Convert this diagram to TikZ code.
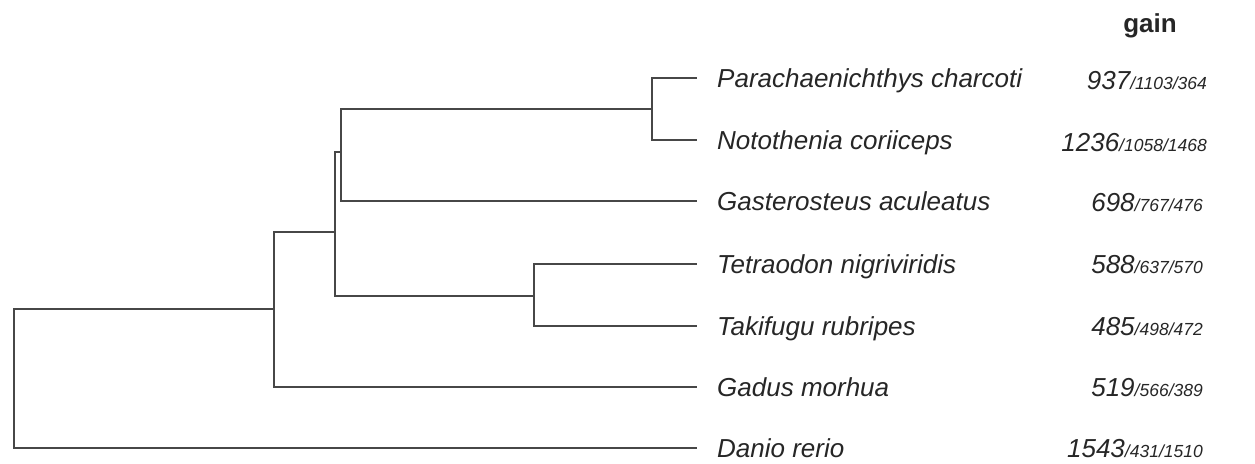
\documentclass[tikz,border=0pt]{standalone}
\usepackage{fontspec}
\setmainfont{Liberation Sans}
\usetikzlibrary{positioning}

\newcommand{\rest}[1]{{\fontsize{17.5}{20}\selectfont #1}}

\begin{document}
\begin{tikzpicture}[x=1pt,y=-1pt,
  branch/.style={draw=black!72,line width=2pt,to path={|- (\tikztotarget)}},
  species/.style={anchor=west,inner sep=0pt,text height=18.6pt,text depth=0pt,text=black!85,font=\fontsize{26}{30}\selectfont\itshape},
  count/.style={anchor=east,inner sep=0pt,text height=18.6pt,text depth=0pt,text=black!85,font=\fontsize{26}{30}\selectfont\itshape}]
  \useasboundingbox (0,0) rectangle (1255,463);

  % leaf tips
  \coordinate (t1) at (697,78);
  \coordinate (t2) at (697,140);
  \coordinate (t3) at (697,201);
  \coordinate (t4) at (697,264);
  \coordinate (t5) at (697,326);
  \coordinate (t6) at (697,387);
  \coordinate (t7) at (697,448);

  % inner nodes
  \coordinate (n1) at (652,109);
  \coordinate (n2) at (341,152);
  \coordinate (n3) at (335,232);
  \coordinate (n4) at (534,296);
  \coordinate (n5) at (274,309);
  \coordinate (n6) at (14,378);

  \node[species] (1) [right=20pt of t1] {Parachaenichthys charcoti};
  \node[species] (2) [right=20pt of t2] {Notothenia coriiceps};
  \node[species] (3) [right=20pt of t3] {Gasterosteus aculeatus};
  \node[species] (4) [right=20pt of t4] {Tetraodon nigriviridis};
  \node[species] (5) [right=20pt of t5] {Takifugu rubripes};
  \node[species] (6) [right=20pt of t6] {Gadus morhua};
  \node[species] (7) [right=20pt of t7] {Danio rerio};

  \node[anchor=base,font=\fontsize{26}{30}\selectfont\bfseries,text=black!85] (gain) at (1150,32) {gain};
  \node[count] (g1) at (1207,80) {937\rest{/1103/364}};
  \node[count] (g2) at (1207,142) {1236\rest{/1058/1468}};
  \node[count] (g3) at (1203,202) {698\rest{/767/476}};
  \node[count] (g4) at (1203,264) {588\rest{/637/570}};
  \node[count] (g5) at (1203,326) {485\rest{/498/472}};
  \node[count] (g6) at (1203,387) {519\rest{/566/389}};
  \node[count] (g7) at (1203,448) {1543\rest{/431/1510}};

  \path
    (n1) edge[branch] (t1)
    (n1) edge[branch] (t2)
    (n2) edge[branch] (n1)
    (n2) edge[branch] (t3)
    (n4) edge[branch] (t4)
    (n4) edge[branch] (t5)
    (n3) edge[branch] (n2)
    (n3) edge[branch] (n4)
    (n5) edge[branch] (n3)
    (n5) edge[branch] (t6)
    (n6) edge[branch] (n5)
    (n6) edge[branch] (t7)
  ;
\end{tikzpicture}
\end{document}
